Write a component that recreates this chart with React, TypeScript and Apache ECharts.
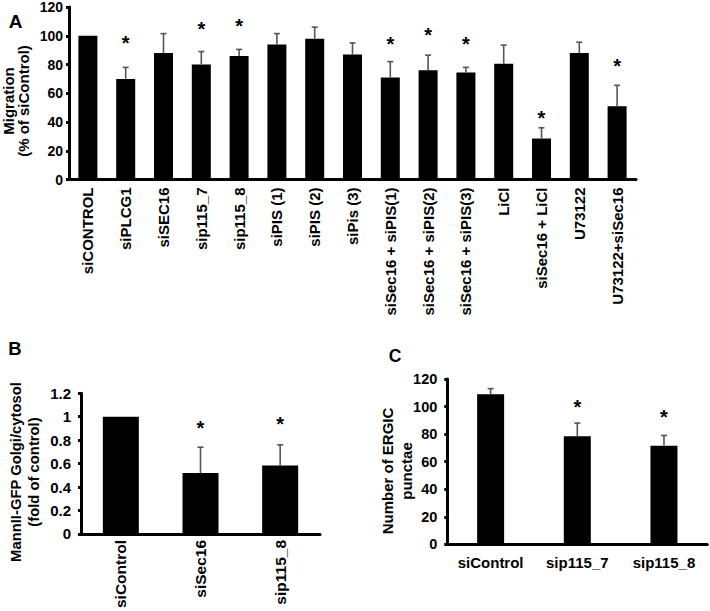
import React, { useEffect, useRef } from "react";
import * as echarts from "echarts";

// Panel A
const catsA = [
  "siCONTROL", "siPLCG1", "siSEC16", "sip115_7", "sip115_8", "siPIS (1)", "siPIS (2)", "siPis (3)",
  "siSec16 + siPIS(1)", "siSec16 + siPIS(2)", "siSec16 + siPIS(3)", "LiCl", "siSec16 + LiCl", "U73122", "U73122+siSec16",
];
const valsA = [100, 70, 88, 80, 86, 94, 98, 87, 71, 76, 74.5, 80.5, 28.5, 88, 51];
const errA = [0, 8, 13.5, 9, 4.5, 7.5, 8, 8, 11, 10.5, 3.5, 13, 7.5, 7.5, 14.5];
const starsA: (number | null)[] = [null, 98.5, null, 108, 110, null, null, null, 98, 104, 97.5, null, 46.5, null, 82.5];
const ticksA = { min: 0, max: 120, interval: 20 };

// Panel B
const catsB = ["siControl", "siSec16", "sip115_8"];
const valsB = [1, 0.52, 0.585];
const errB = [0, 0.22, 0.175];
const starsB: (number | null)[] = [null, 0.95, 0.985];
const ticksB = { min: 0, max: 1.2, interval: 0.2 };

// Panel C
const catsC = ["siControl", "sip115_7", "sip115_8"];
const valsC = [109, 78.5, 71.5];
const errC = [4, 9.5, 7.5];
const starsC: (number | null)[] = [null, 103.5, 96];
const ticksC = { min: 0, max: 120, interval: 20 };

const FONT = "Liberation Sans, Arial, sans-serif";

function errSeries(idx: number, vals: number[], errs: number[]) {
  return {
    type: "custom",
    xAxisIndex: idx,
    yAxisIndex: idx,
    z: 3,
    encode: { x: 0, y: 1 },
    data: vals.map((v, i) => [i, v, errs[i]]),
    renderItem: (params: any, api: any) => {
      const x = api.value(0);
      const v = api.value(1);
      const e = api.value(2);
      if (!e) return null;
      const p0 = api.coord([x, v]);
      const p1 = api.coord([x, v + e]);
      const st = { stroke: "#555", lineWidth: 1.6 };
      return {
        type: "group",
        children: [
          { type: "line", shape: { x1: p0[0], y1: p0[1], x2: p1[0], y2: p1[1] }, style: st },
          { type: "line", shape: { x1: p1[0] - 3, y1: p1[1], x2: p1[0] + 3, y2: p1[1] }, style: st },
        ],
      };
    },
  };
}

function starSeries(idx: number, stars: (number | null)[]) {
  return {
    type: "custom",
    xAxisIndex: idx,
    yAxisIndex: idx,
    z: 4,
    encode: { x: 0, y: 1 },
    data: stars.map((s, i) => (s == null ? null : [i, s])).filter((d) => d != null),
    renderItem: (params: any, api: any) => {
      const p = api.coord([api.value(0), api.value(1)]);
      return {
        type: "text",
        x: p[0],
        y: p[1] + 5,
        style: {
          text: "*",
          align: "center",
          verticalAlign: "middle",
          font: `bold 20px ${FONT}`,
          fill: "#000",
        },
      };
    },
  };
}

function barSeries(idx: number, vals: number[], width: number) {
  return {
    type: "bar",
    xAxisIndex: idx,
    yAxisIndex: idx,
    barWidth: width,
    data: vals,
    itemStyle: { color: "#000" },
    z: 2,
  };
}

function xAx(idx: number, cats: string[], rotate: number, margin: number, fs: number) {
  return {
    gridIndex: idx,
    type: "category",
    data: cats,
    axisLine: { lineStyle: { color: "#000", width: 3 } },
    axisTick: { show: false },
    axisLabel: {
      rotate,
      margin,
      interval: 0,
      fontSize: fs,
      fontWeight: "bold",
      color: "#000",
      fontFamily: FONT,
    },
  };
}

function yAx(idx: number, t: { min: number; max: number; interval: number }, fs: number, margin: number) {
  return {
    gridIndex: idx,
    type: "value",
    min: t.min,
    max: t.max,
    interval: t.interval,
    axisLine: { show: true, lineStyle: { color: "#000", width: 3 } },
    axisTick: { show: true, length: 3, lineStyle: { color: "#000", width: 3 } },
    splitLine: { show: false },
    axisLabel: {
      margin,
      fontSize: fs,
      fontWeight: "bold",
      color: "#000",
      fontFamily: FONT,
    },
  };
}

function rotText(x: number, y: number, text: string, size: number, lh: number) {
  return {
    type: "text",
    x,
    y,
    rotation: Math.PI / 2,
    style: {
      text,
      align: "center",
      verticalAlign: "middle",
      font: `bold ${size}px ${FONT}`,
      lineHeight: lh,
      fill: "#000",
    },
  };
}

function letter(x: number, y: number, text: string, size: number) {
  return {
    type: "text",
    x,
    y,
    style: {
      text,
      align: "center",
      verticalAlign: "middle",
      font: `bold ${size}px ${FONT}`,
      fill: "#000",
    },
  };
}

export default function App() {
  const ref = useRef<HTMLDivElement>(null);
  useEffect(() => {
    if (!ref.current) return;
    const chart = echarts.init(ref.current, undefined, { renderer: "svg" });
    const option: any = {
      animation: false,
      grid: [
        { left: 69, top: 6, width: 567, height: 173.5 },
        { left: 81, top: 393.3, width: 239, height: 147.4 },
        { left: 447.3, top: 379, width: 260, height: 165.3 },
      ],
      xAxis: [xAx(0, catsA, 90, 8, 15), xAx(1, catsB, 90, 6, 15.5), xAx(2, catsC, 0, 11, 15)],
      yAxis: [yAx(0, ticksA, 14, 6), yAx(1, ticksB, 15, 10), yAx(2, ticksC, 14.5, 10)],
      series: [
        barSeries(0, valsA, 19),
        errSeries(0, valsA, errA),
        starSeries(0, starsA),
        barSeries(1, valsB, 36),
        errSeries(1, valsB, errB),
        starSeries(1, starsB),
        barSeries(2, valsC, 27),
        errSeries(2, valsC, errC),
        starSeries(2, starsC),
      ],
      graphic: [
        letter(15.5, 21.5, "A", 19),
        letter(15, 348, "B", 18.5),
        letter(395, 356, "C", 17.5),
        rotText(15.5, 101, "Migration\n(% of siControl)", 15, 15),
        rotText(25.3, 472, "MannII-GFP Golgi/cytosol\n(fold of control)", 14.8, 18),
        rotText(396.5, 471, "Number of ERGIC\npunctae", 15, 19),
      ],
    };
    chart.setOption(option);
    return () => chart.dispose();
  }, []);
  return (
    <div
      ref={ref}
      style={{ position: "absolute", left: 0, top: 0, width: 710, height: 611, background: "#fff" }}
    />
  );
}
